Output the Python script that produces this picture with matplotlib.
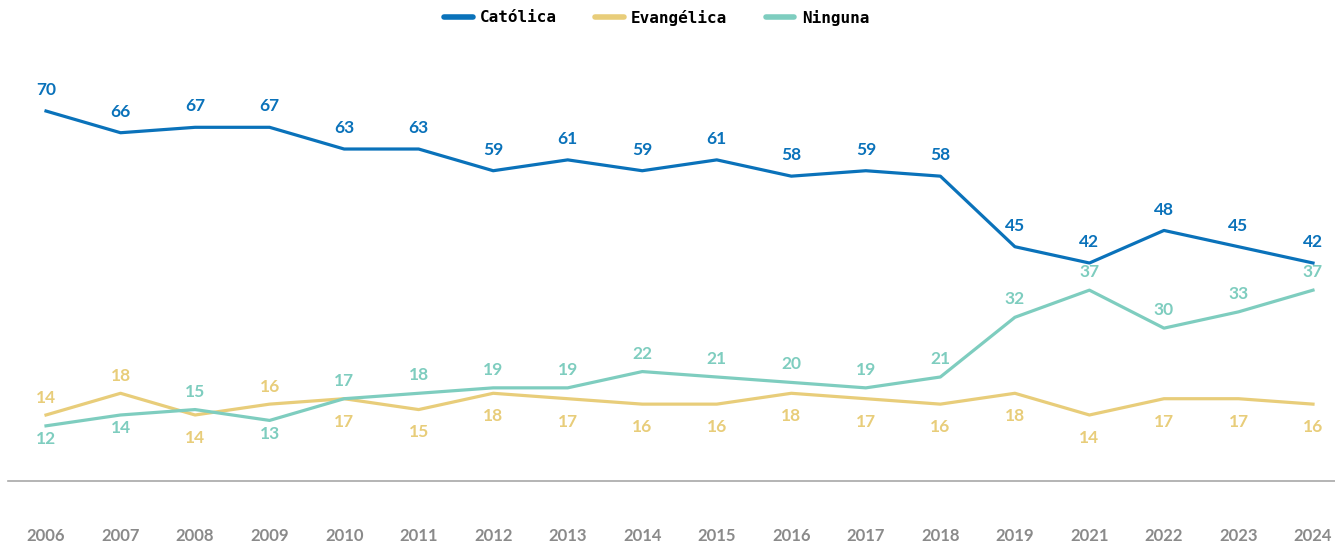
import matplotlib.pyplot as plt

years = ['2006', '2007', '2008', '2009', '2010', '2011', '2012', '2013', '2014',
         '2015', '2016', '2017', '2018', '2019', '2021', '2022', '2023', '2024']
catolica = [70, 66, 67, 67, 63, 63, 59, 61, 59, 61, 58, 59, 58, 45, 42, 48, 45, 42]
evangelica = [14, 18, 14, 16, 17, 15, 18, 17, 16, 16, 18, 17, 16, 18, 14, 17, 17, 16]
ninguna = [12, 14, 15, 13, 17, 18, 19, 19, 22, 21, 20, 19, 21, 32, 37, 30, 33, 37]

c_cat = '#0a72ba'
c_eva = '#e8cd7a'
c_nin = '#7ecdbf'
num_font = 'Lato'

fig = plt.figure(figsize=(13.35, 5.44), dpi=100)
ax = fig.add_axes([8 / 1335, 63 / 544, 1327 / 1335, 421 / 544])

x = list(range(len(years)))
ax.plot(x, catolica, color=c_cat, lw=2.3, label='Católica')
ax.plot(x, evangelica, color=c_eva, lw=2.3, label='Evangélica')
ax.plot(x, ninguna, color=c_nin, lw=2.3, label='Ninguna')

ax.set_xlim(-0.51, 17.295)
ax.set_ylim(1.84, 79.4)

# etiquetas de valores
for i, v in enumerate(catolica):
    ax.annotate(str(v), (i, v), xytext=(0, 15), textcoords='offset points',
                ha='center', va='center', color=c_cat, fontsize=12.5,
                fontweight='bold', family=num_font)

for i in x:
    e, n = evangelica[i], ninguna[i]
    if e > n:
        e_off, n_off = 12.5, -9.5
    else:
        e_off, n_off = -16.5, 13
    ax.annotate(str(e), (i, e), xytext=(0, e_off), textcoords='offset points',
                ha='center', va='center', color=c_eva, fontsize=12.5,
                fontweight='bold', family=num_font)
    ax.annotate(str(n), (i, n), xytext=(0, n_off), textcoords='offset points',
                ha='center', va='center', color=c_nin, fontsize=12.5,
                fontweight='bold', family=num_font)

ax.set_xticks(x)
ax.set_xticklabels(years, color='#8a8a8a', fontsize=12, fontweight='bold',
                   family=num_font)
ax.tick_params(axis='x', length=0, pad=33.5)
ax.set_yticks([])
for s in ['top', 'left', 'right']:
    ax.spines[s].set_visible(False)
ax.spines['bottom'].set_color('#a8a8a8')
ax.spines['bottom'].set_linewidth(1.2)

leg = fig.legend(loc='center', bbox_to_anchor=(656.5 / 1335, 1 - 17.5 / 544), ncol=3,
                 frameon=False, handlelength=1.8, handletextpad=0.45,
                 columnspacing=2.4,
                 prop={'family': 'DejaVu Sans Mono', 'weight': 'bold', 'size': 11.5})
for h in leg.legend_handles:
    h.set_linewidth(4)
    h.set_solid_capstyle('round')

fig.savefig('out.png', dpi=100)
